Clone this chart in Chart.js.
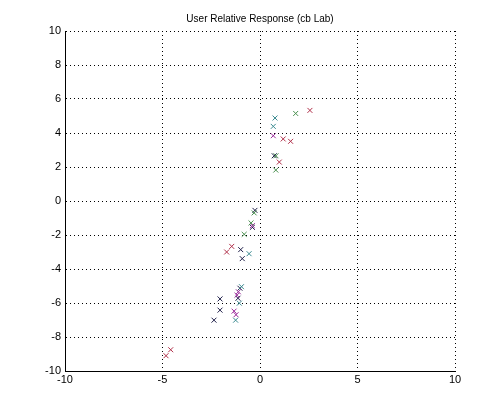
<!DOCTYPE html>
<html>
<head>
<meta charset="utf-8">
<script src="https://cdn.jsdelivr.net/npm/chart.js@4.4.1/dist/chart.umd.min.js"></script>
<style>
  html, body { margin: 0; padding: 0; background: #fff; }
  #wrap { width: 503px; height: 417px; }
</style>
</head>
<body>
<div id="wrap"><canvas id="chart" width="503" height="417"></canvas></div>
<script>
const redX     = [2.56, 1.19, 1.57, 0.99, -1.45, -1.71, -4.58, -4.82];
const redY     = [5.33, 3.65, 3.51, 2.29, -2.67, -3.00, -8.75, -9.10];
const greenX   = [1.83, 0.82, 0.81, -0.30, -0.46, -0.81];
const greenY   = [5.15, 2.66, 1.82, -0.70, -1.29, -1.96];
const tealX    = [0.77, 0.68, -0.56, -0.95, -1.06, -1.25];
const tealY    = [4.88, 4.39, -3.10, -5.04, -6.01, -7.01];
const magentaX = [0.68, -0.39, -1.11, -1.18, -1.33, -1.23];
const magentaY = [3.84, -1.45, -5.34, -5.54, -6.48, -6.69];
const navyX    = [0.73, -0.26, -0.39, -0.99, -0.91, -1.03, -1.13, -2.05, -2.05, -2.36];
const navyY    = [2.66, -0.55, -1.55, -2.86, -3.39, -5.13, -5.72, -5.76, -6.42, -7.01];

const xTicks = [-10, -5, 0, 5, 10];
const yTicks = [-10, -8, -6, -4, -2, 0, 2, 4, 6, 8, 10];

const FONT = "'Liberation Sans', Arial, sans-serif";

function pts(xs, ys) {
  return xs.map((x, i) => ({ x: x, y: ys[i] }));
}

function series(xs, ys, color) {
  return {
    data: pts(xs, ys),
    pointStyle: 'crossRot',
    pointRadius: 3.5,
    pointHoverRadius: 3.5,
    borderColor: color,
    backgroundColor: color,
    pointBorderWidth: 1,
    showLine: false,
  };
}

const grid = {
  color: '#000',
  lineWidth: 1,
  drawTicks: false,
};

new Chart(document.getElementById('chart').getContext('2d'), {
  type: 'scatter',
  data: {
    datasets: [
      series(redX, redY, '#b0304a'),
      series(greenX, greenY, '#4a9050'),
      series(tealX, tealY, '#3a8a90'),
      series(magentaX, magentaY, '#9a2a9a'),
      series(navyX, navyY, '#20204a'),
    ]
  },
  options: {
    responsive: false,
    animation: false,
    layout: { padding: { left: 0, right: 48, top: 2, bottom: 0 } },
    plugins: {
      legend: { display: false },
      tooltip: { enabled: false },
      title: {
        display: true,
        fullSize: false,
        text: 'User Relative Response (cb Lab)',
        color: '#000',
        font: { family: FONT, size: 10, weight: 'normal', lineHeight: 1.2 },
        padding: { top: 11, bottom: 6 },
      }
    },
    scales: {
      x: {
        type: 'linear',
        min: -10, max: 10,
        afterBuildTicks: (axis) => { axis.ticks = xTicks.map(v => ({ value: v })); },
        afterFit: (axis) => { axis.height = 46; },
        grid: grid,
        border: { display: true, color: '#000', width: 1, dash: [1, 3] },
        ticks: { color: '#000', padding: 2, font: { family: FONT, size: 11 }, maxRotation: 0 },
      },
      y: {
        type: 'linear',
        min: -10, max: 10,
        afterBuildTicks: (axis) => { axis.ticks = yTicks.map(v => ({ value: v })); },
        afterFit: (axis) => { axis.width = 65; },
        grid: grid,
        border: { display: true, color: '#000', width: 1, dash: [1, 3] },
        ticks: { color: '#000', padding: 4, font: { family: FONT, size: 11 } },
      }
    }
  },
  plugins: [{
    id: 'frame',
    beforeDatasetsDraw(chart) {
      const { ctx, chartArea: a } = chart;
      ctx.save();
      ctx.strokeStyle = '#000';
      ctx.lineWidth = 1;
      ctx.setLineDash([]);
      ctx.beginPath();
      ctx.moveTo(Math.round(a.left) + 0.5, Math.round(a.top));
      ctx.lineTo(Math.round(a.left) + 0.5, Math.round(a.bottom) + 0.5);
      ctx.lineTo(Math.round(a.right), Math.round(a.bottom) + 0.5);
      ctx.stroke();
      ctx.restore();
    }
  }]
});
</script>
</body>
</html>
